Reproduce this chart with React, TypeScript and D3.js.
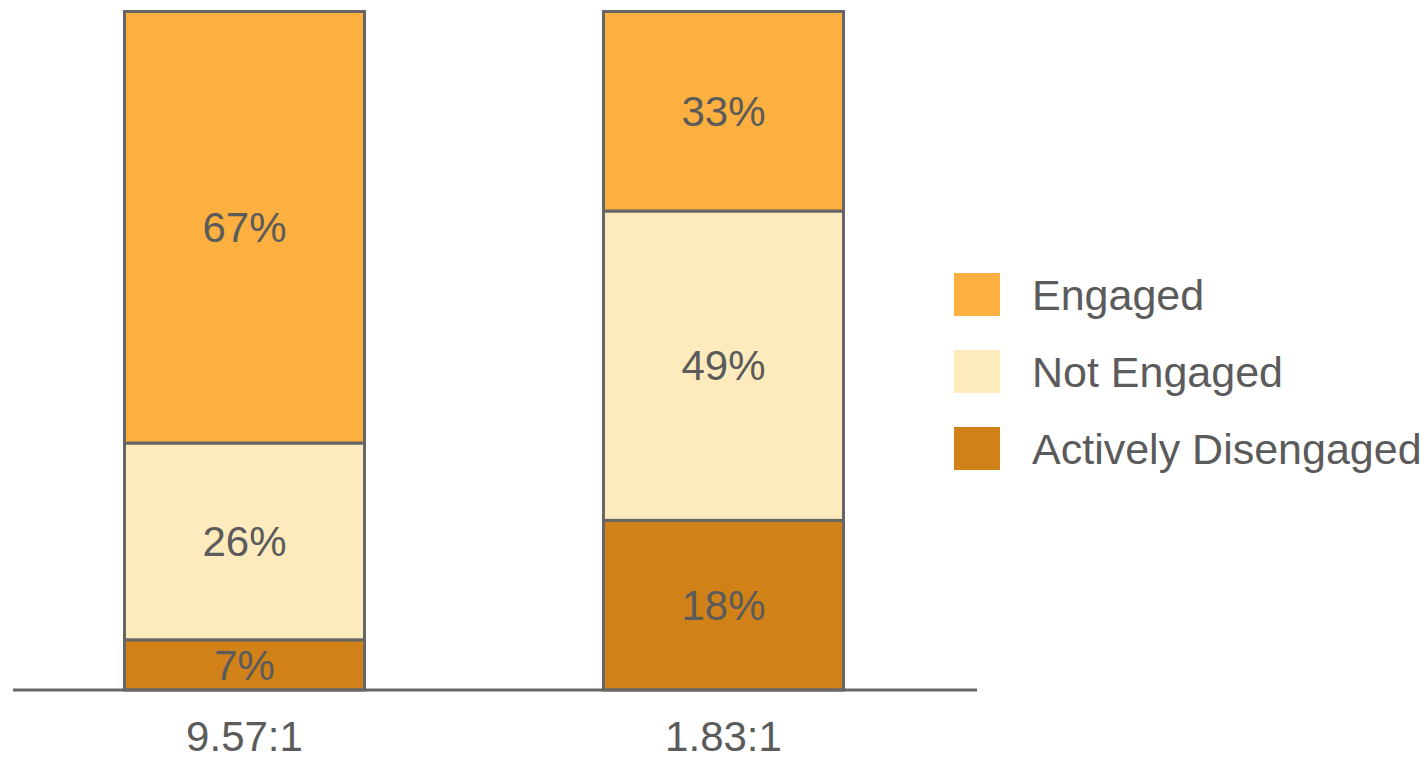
import React from 'react';
import * as d3 from 'd3';

// Categories (x axis) and stacked series, bottom to top
const categories = ['9.57:1', '1.83:1'];
const seriesNames = ['Actively Disengaged', 'Not Engaged', 'Engaged'];
// Printed percentages
const activelyDisengaged = [7, 18];
const notEngaged = [26, 49];
const engaged = [67, 33];
// Segment shares as drawn in the picture (the drawn heights are not exactly the labels)
const drawnActively = [7.4, 25];
const drawnNot = [29, 45.6];
const drawnEngaged = [63.6, 29.4];
// Legend order, top to bottom
const legendOrder = ['Engaged', 'Not Engaged', 'Actively Disengaged'];

const colors: Record<string, string> = {
  'Engaged': '#FBB040',
  'Not Engaged': '#FEEBBD',
  'Actively Disengaged': '#D08218',
};

const W = 1426;
const H = 761;
const TEXT = '#5b5b5b';
const LINE = '#666666';
const FONT = '"Liberation Sans", Arial, sans-serif';

const App: React.FC = () => {
  const x = d3.scalePoint<string>().domain(categories).range([244.5, 723.5]);
  const barW = 240;
  const y = d3.scaleLinear().domain([0, 100]).range([690, 11.5]);

  const labels = [activelyDisengaged, notEngaged, engaged];
  const drawn = [drawnActively, drawnNot, drawnEngaged];

  const rows = categories.map((c, i) => {
    const obj: Record<string, number | string> = { cat: c };
    seriesNames.forEach((s, k) => { obj[s] = drawn[k][i]; });
    return obj;
  });
  const stack = d3.stack<Record<string, number | string>>().keys(seriesNames)(rows as any);

  const legendY = d3.scalePoint<string>().domain(legendOrder).range([294.5, 448.5]);

  return (
    <svg width={W} height={H} style={{ position: 'absolute', left: 0, top: 0, background: '#fff' }}
      fontFamily={FONT}>
      {stack.map((layer, k) => (
        <g key={layer.key}>
          {layer.map((d, i) => {
            const cx = x(categories[i]) as number;
            const y0 = y(d[0]);
            const y1 = y(d[1]);
            return (
              <g key={i}>
                <rect x={cx - barW / 2} y={y1} width={barW} height={y0 - y1}
                  fill={colors[layer.key]} stroke={LINE} strokeWidth={3} />
                <text x={cx} y={(y0 + y1) / 2} dy="0.35em" textAnchor="middle"
                  fontSize={42} fill={TEXT}>{labels[k][i]}%</text>
              </g>
            );
          })}
        </g>
      ))}
      <line x1={13} x2={977} y1={690} y2={690} stroke={LINE} strokeWidth={3} />
      {categories.map(c => (
        <text key={c} x={x(c) as number} y={751} textAnchor="middle" fontSize={42} fill={TEXT}>{c}</text>
      ))}
      {legendOrder.map(s => {
        const ly = legendY(s) as number;
        return (
          <g key={s}>
            <rect x={954} y={ly - 21.5} width={46} height={43} fill={colors[s]} />
            <text x={1032} y={ly} dy="0.35em" fontSize={43} fill={TEXT}>{s}</text>
          </g>
        );
      })}
    </svg>
  );
};

export default App;
